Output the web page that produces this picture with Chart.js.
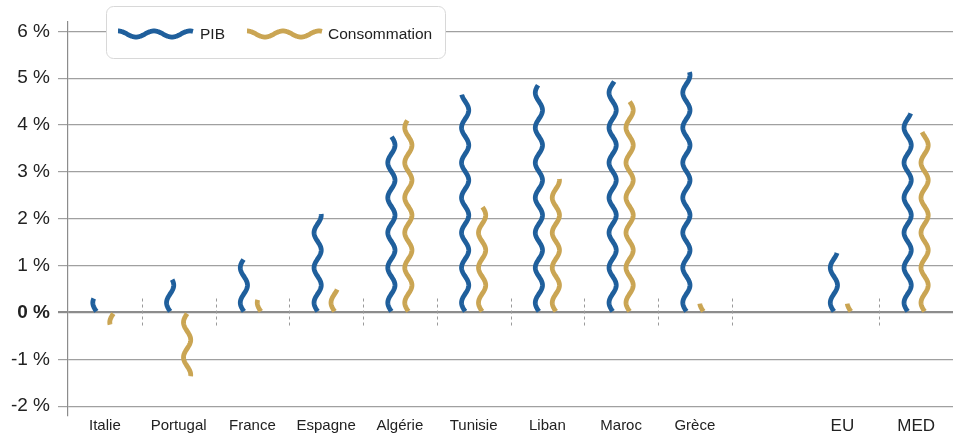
<!DOCTYPE html>
<html>
<head>
<meta charset="utf-8">
<script src="https://cdn.jsdelivr.net/npm/chart.js@4.4.1/dist/chart.umd.min.js"></script>
<style>
  html, body { margin: 0; padding: 0; background: #fff; }
  #wrap { width: 959px; height: 435px; }
</style>
</head>
<body>
<div id="wrap"><canvas id="chart"></canvas></div>
<script>
// categories ('' is the empty slot between Grèce and EU)
const categories = ['Italie', 'Portugal', 'France', 'Espagne', 'Algérie', 'Tunisie', 'Liban', 'Maroc', 'Grèce', '', 'EU', 'MED'];
const pib = [0.3, 0.7, 1.13, 2.1, 3.75, 4.65, 4.85, 4.93, 5.13, null, 1.27, 4.25];
const consommation = [-0.26, -1.36, 0.27, 0.49, 4.1, 2.25, 2.85, 4.5, 0.19, null, 0.19, 3.85];
const yTicks = [-2, -1, 0, 1, 2, 3, 4, 5, 6];
// dashed separators come after these category indexes
const separators = [0, 1, 2, 3, 4, 5, 6, 7, 8, 10];

const BLUE = '#1f5f9c';
const GOLD = '#caa553';
const AMP = 3.6;
const PERIOD = 35;
const WAVE_W = 4.8;

// draws each bar as a vertical wave from its base to its value
const wavePlugin = {
    id: 'waves',
    afterDatasetsDraw(chart) {
        const ctx = chart.ctx;
        chart.data.datasets.forEach((ds, di) => {
            const meta = chart.getDatasetMeta(di);
            meta.data.forEach((bar, i) => {
                if (ds.data[i] == null) return;
                const base = bar.base;
                const len = Math.abs(base - bar.y);
                const dir = bar.y < base ? -1 : 1;
                ctx.save();
                ctx.strokeStyle = ds.waveColor;
                ctx.lineWidth = WAVE_W;
                ctx.lineCap = 'butt';
                ctx.lineJoin = 'round';
                ctx.beginPath();
                for (let d = 0; d <= len; d += 0.5) {
                    const x = bar.x - AMP * Math.sin(2 * Math.PI * d / PERIOD);
                    const y = base + dir * d;
                    if (d === 0) ctx.moveTo(x, y); else ctx.lineTo(x, y);
                }
                ctx.lineTo(bar.x - AMP * Math.sin(2 * Math.PI * len / PERIOD), base + dir * len);
                ctx.stroke();
                ctx.restore();
            });
        });
    }
};

// short dashed separators around the zero line
const separatorPlugin = {
    id: 'separators',
    beforeDatasetsDraw(chart) {
        const ctx = chart.ctx;
        const xs = chart.scales.x;
        const y0 = chart.scales.y.getPixelForValue(0);
        ctx.save();
        ctx.strokeStyle = '#9a9a9a';
        ctx.lineWidth = 1;
        ctx.setLineDash([3, 3]);
        separators.forEach(i => {
            const x = Math.round((xs.getPixelForValue(i) + xs.getPixelForValue(i + 1)) / 2) + 0.5;
            ctx.beginPath();
            ctx.moveTo(x, y0 - 14);
            ctx.lineTo(x, y0 + 15);
            ctx.stroke();
        });
        ctx.restore();
    }
};

function waveSample(ctx, x0, x1, cy, color) {
    ctx.strokeStyle = color;
    ctx.lineWidth = WAVE_W;
    ctx.lineCap = 'butt';
    ctx.beginPath();
    for (let x = x0; x <= x1; x += 0.5) {
        const y = cy - AMP * 0.85 * Math.cos(2 * Math.PI * (x - x0) / 36);
        if (x === x0) ctx.moveTo(x, y); else ctx.lineTo(x, y);
    }
    ctx.stroke();
}

// legend in a rounded white box over the top of the plot
const legendPlugin = {
    id: 'waveLegend',
    afterDraw(chart) {
        const ctx = chart.ctx;
        const ds = chart.data.datasets;
        ctx.save();
        ctx.beginPath();
        ctx.roundRect(106.5, 6.5, 339, 52, 7);
        ctx.fillStyle = '#fff';
        ctx.fill();
        ctx.strokeStyle = '#d8d8d8';
        ctx.lineWidth = 1;
        ctx.stroke();

        ctx.font = '15.5px "Liberation Sans", Arial, sans-serif';
        ctx.fillStyle = '#222';
        ctx.textBaseline = 'middle';
        waveSample(ctx, 118, 193, 34, ds[0].waveColor);
        ctx.fillText(ds[0].label, 200, 35);
        waveSample(ctx, 247, 322, 34, ds[1].waveColor);
        ctx.fillText(ds[1].label, 328, 35);
        ctx.restore();
    }
};

const ctx = document.getElementById('chart').getContext('2d');
new Chart(ctx, {
    type: 'bar',
    data: {
        labels: categories,
        datasets: [
            {
                label: 'PIB',
                data: pib,
                waveColor: BLUE,
                backgroundColor: 'rgba(0,0,0,0)',
                borderWidth: 0
            },
            {
                label: 'Consommation',
                data: consommation,
                waveColor: GOLD,
                backgroundColor: 'rgba(0,0,0,0)',
                borderWidth: 0
            }
        ]
    },
    options: {
        responsive: true,
        maintainAspectRatio: false,
        animation: false,
        events: [],
        categoryPercentage: 0.46,
        barPercentage: 0.5,
        layout: { padding: { top: 22, right: 6, left: 0, bottom: 0 } },
        plugins: {
            legend: { display: false },
            tooltip: { enabled: false }
        },
        scales: {
            x: {
                grid: { display: false, drawTicks: false },
                border: { display: false },
                ticks: {
                    padding: 1,
                    color: '#222',
                    maxRotation: 0,
                    autoSkip: false,
                    font: c => ({
                        family: '"Liberation Sans", Arial, sans-serif',
                        size: c.index >= 10 ? 17 : 15
                    })
                },
                afterFit: scale => { scale.height = 18; }
            },
            y: {
                min: -2.2,
                max: 6.2,
                afterBuildTicks: scale => {
                    scale.ticks = yTicks.map(v => ({ value: v }));
                },
                afterFit: scale => { scale.width = 68; },
                grid: {
                    color: c => c.tick && c.tick.value === 0 ? '#8c8c8c' : '#a0a0a0',
                    lineWidth: c => c.tick && c.tick.value === 0 ? 2.2 : 1.2,
                    tickLength: 10
                },
                border: { display: true, color: '#8c8c8c', width: 1.2 },
                ticks: {
                    padding: 8,
                    color: '#222',
                    callback: v => v + ' %',
                    font: c => ({
                        family: '"Liberation Sans", Arial, sans-serif',
                        size: 19,
                        weight: c.tick && c.tick.value === 0 ? 'bold' : 'normal'
                    })
                }
            }
        }
    },
    plugins: [separatorPlugin, wavePlugin, legendPlugin]
});
</script>
</body>
</html>
